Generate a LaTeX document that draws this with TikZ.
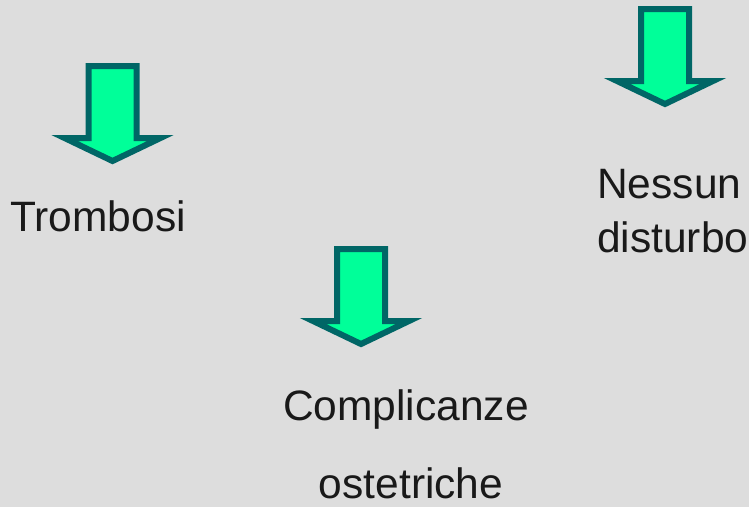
\documentclass[tikz,border=0pt]{standalone}
\usepackage{fontspec}
\setmainfont{Liberation Sans}
\definecolor{bggray}{HTML}{DDDDDD}
\definecolor{arrowfill}{HTML}{00FF99}
\definecolor{arrowedge}{HTML}{006666}
\tikzset{
  arrowbody/.style={fill=arrowfill, draw=arrowedge, line width=6pt, line join=miter},
  downarrow/.pic={
    \draw[arrowbody] (-24,3) -- (24,3) -- (24,75) -- (48,75) -- (0,98) -- (-48,75) -- (-24,75) -- cycle;
  },
  label/.style={inner sep=0pt, font=\fontsize{42.5}{54}\selectfont, text=black!90}
}
\begin{document}
\begin{tikzpicture}[x=1pt,y=-1pt]
		\fill[bggray] (0,0) rectangle (749,507);
		\useasboundingbox (0,0) rectangle (749,507);
		\pic at (112.5,63) {downarrow};
		\pic at (665,6) {downarrow};
		\pic at (361,246) {downarrow};
		\node[label, anchor=base] (trombosi) at (98,231) {Trombosi};
		\node[label, anchor=base west] (nessun) at (597,198) {Nessun};
		\node[label, anchor=base west] (disturbo) at (597,252) {disturbo};
		\node[label, anchor=base] (complicanze) at (406,420) {Complicanze};
		\node[label, anchor=base] (ostetriche) at (411,498) {ostetriche};
\end{tikzpicture}
\end{document}
